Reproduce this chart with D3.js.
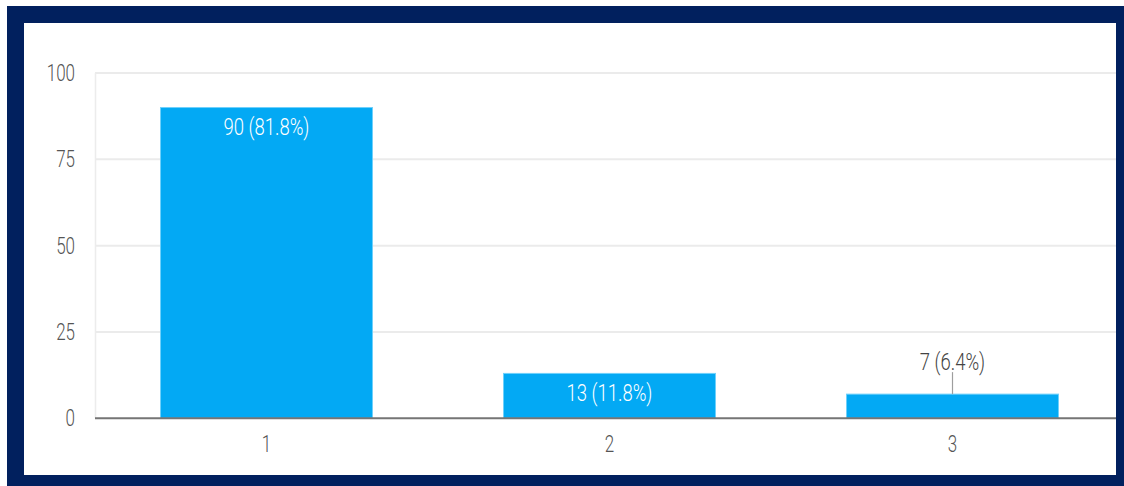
<!DOCTYPE html>
<html><head><meta charset="utf-8">
<script src="https://cdn.jsdelivr.net/npm/d3@7"></script>
<style>html,body{margin:0;padding:0;background:#fff;}svg{display:block;}</style>
</head><body>
<svg id="c" width="1124" height="486"></svg>
<script>
const categories = ["1", "2", "3"];
const values = [90, 13, 7];
const labels = ["90 (81.8%)", "13 (11.8%)", "7 (6.4%)"];
const yTicks = [0, 25, 50, 75, 100];

const svg = d3.select("#c");
const W = 1124, H = 486;
// frame
svg.append("rect").attr("x", 7).attr("y", 6).attr("width", W - 7).attr("height", H - 6).attr("fill", "#01205e");
svg.append("rect").attr("x", 24).attr("y", 23).attr("width", 1116 - 24).attr("height", 475 - 23).attr("fill", "#fff");

svg.append("clipPath").attr("id", "inner").append("rect")
  .attr("x", 24).attr("y", 23).attr("width", 1116 - 24).attr("height", 475 - 23);
const g = svg.append("g").attr("clip-path", "url(#inner)");

const x = d3.scaleBand().domain(categories).range([95, 1124]).paddingInner(0.382).paddingOuter(0.191);
const y = d3.scaleLinear().domain([0, 100]).range([418.3, 73]);
const SY = 1.42;
const SYL = 1.3;
const font = "Roboto, Arial, sans-serif";

// gridlines
g.selectAll(".grid").data(yTicks.filter(d => d > 0)).join("line")
  .attr("x1", 95).attr("x2", 1124)
  .attr("y1", d => y(d)).attr("y2", d => y(d))
  .attr("stroke", "#ebebeb").attr("stroke-width", 2);
g.append("line").attr("x1", 95.5).attr("x2", 95.5).attr("y1", y(100)).attr("y2", y(0))
  .attr("stroke", "#ececec").attr("stroke-width", 1.5);

// y tick labels
g.selectAll(".yt").data(yTicks).join("text")
  .attr("transform", d => `translate(75,${y(d)}) scale(1,${SY})`)
  .attr("text-anchor", "end").attr("dominant-baseline", "central")
  .attr("font-family", font).attr("font-weight", 300).attr("font-size", 17).attr("fill", "#555")
  .text(d => d);

// bars
g.selectAll(".bar").data(values).join("rect")
  .attr("x", (d, i) => x(categories[i]))
  .attr("y", d => y(d))
  .attr("width", x.bandwidth())
  .attr("height", d => y(0) - y(d))
  .attr("fill", "#03a9f4")
  .attr("stroke", "#6fd0fb").attr("stroke-width", 1);

// baseline
g.append("line").attr("x1", 95).attr("x2", 1124).attr("y1", y(0)).attr("y2", y(0))
  .attr("stroke", "#757575").attr("stroke-width", 2);

// x tick labels
g.selectAll(".xt").data(categories).join("text")
  .attr("transform", d => `translate(${x(d) + x.bandwidth() / 2},444) scale(1,${SY})`)
  .attr("text-anchor", "middle").attr("dominant-baseline", "central")
  .attr("font-family", font).attr("font-weight", 300).attr("font-size", 17).attr("fill", "#555")
  .text(d => d);

// value labels
values.forEach((v, i) => {
  const cx = x(categories[i]) + x.bandwidth() / 2;
  const top = y(v);
  const inside = (y(0) - top) > 30;
  if (inside) {
    g.append("text")
      .attr("transform", `translate(${cx},${top + 19}) scale(1,${SYL})`)
      .attr("text-anchor", "middle").attr("dominant-baseline", "central")
      .attr("font-family", font).attr("font-weight", 300).attr("font-size", 18.5).attr("fill", "#ffffff")
      .text(labels[i]);
  } else {
    g.append("line").attr("x1", cx).attr("x2", cx).attr("y1", top - 22).attr("y2", top)
      .attr("stroke", "#9e9e9e").attr("stroke-width", 1.2);
    g.append("text")
      .attr("transform", `translate(${cx},${top - 33}) scale(1,${SYL})`)
      .attr("text-anchor", "middle").attr("dominant-baseline", "central")
      .attr("font-family", font).attr("font-weight", 300).attr("font-size", 18.5).attr("fill", "#444")
      .text(labels[i]);
  }
});
</script>
</body></html>
